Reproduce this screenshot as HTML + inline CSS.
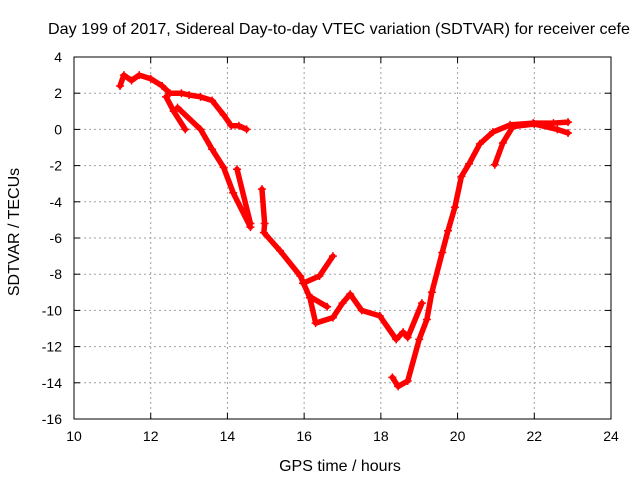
<!DOCTYPE html>
<html><head><meta charset="utf-8"><style>
body{margin:0;background:#fff}
svg{display:block;font-family:"Liberation Sans",sans-serif}
</style></head><body>
<svg id="c" width="640" height="480">
<text x="339" y="34" font-size="16" text-anchor="middle" textLength="582" lengthAdjust="spacingAndGlyphs">Day 199 of 2017, Sidereal Day-to-day VTEC variation (SDTVAR) for receiver cefe</text>
<text x="340" y="471" font-size="16" text-anchor="middle">GPS time / hours</text>
<text transform="translate(19,232) rotate(-90)" font-size="16" text-anchor="middle">SDTVAR / TECUs</text>
<g id="grid"></g><g id="series"></g>
<rect x="74" y="57" width="537" height="362" fill="none" stroke="#000" stroke-width="1"/>
</svg>
<script>
const xTicks=[10,12,14,16,18,20,22,24];
const yTicks=[4,2,0,-2,-4,-6,-8,-10,-12,-14,-16];
const sA=[[11.2,2.4],[11.3,3.0],[11.5,2.7],[11.7,3.0],[12.0,2.8],[12.3,2.4],[12.5,2.0],[12.8,2.0],[13.0,1.9],[13.3,1.8],[13.6,1.6],[13.9,0.8],[14.1,0.2],[14.3,0.2],[14.5,0.0]];
const sB=[[12.4,1.8],[12.6,1.0],[12.9,0.0]];
const sC=[[12.7,1.2],[13.3,0],[13.6,-1.1],[13.9,-2.1],[14.15,-3.5],[14.6,-5.4]];
const sD=[[14.25,-2.2],[14.6,-5.2]];
const sE=[[14.9,-3.3],[14.97,-5.2],[14.95,-5.7],[15.37,-6.7],[15.9,-8.1],[16.15,-9.3],[16.3,-10.7],[16.75,-10.4],[17.0,-9.6],[17.2,-9.1],[17.5,-10.0],[17.97,-10.3],[18.4,-11.6],[18.58,-11.2],[18.7,-11.5],[19.07,-9.6]];
const sF=[[15.97,-8.5],[16.4,-8.1],[16.75,-7.0]];
const sG=[[16.2,-9.3],[16.6,-9.8]];
const sH=[[18.3,-13.7],[18.45,-14.2],[18.7,-13.9],[19.0,-11.6],[19.2,-10.5],[19.33,-9.0],[19.6,-6.8],[19.75,-5.6],[19.93,-4.3],[20.1,-2.6],[20.3,-1.9],[20.58,-0.8],[20.92,-0.15],[21.37,0.25],[21.97,0.35],[22.5,0.35],[22.88,0.4]];
const sI=[[20.97,-1.95],[21.18,-0.75],[21.44,0.15],[22.0,0.3],[22.6,0.0],[22.88,-0.2]];
const allSeries=[sA,sB,sC,sD,sE,sF,sG,sH,sI];
const NS='http://www.w3.org/2000/svg';
const X=h=>74+(h-10)*(537/14);
const Y=v=>57+(4-v)*(362/20);
const grid=document.getElementById('grid'),ser=document.getElementById('series');
function mk(t,a,p){const e=document.createElementNS(NS,t);for(const k in a)e.setAttribute(k,a[k]);p.appendChild(e);return e;}
xTicks.forEach(t=>{const x=X(t);
 if(t>10&&t<24){const l=mk('line',{x1:x,x2:x,y1:57,y2:419,stroke:'#a0a0a0','stroke-dasharray':'2,3'},grid);}
 mk('line',{x1:x,x2:x,y1:419,y2:413,stroke:'#000'},grid);mk('line',{x1:x,x2:x,y1:57,y2:63,stroke:'#000'},grid);
 const tx=mk('text',{x:x,y:441,'font-size':14,'text-anchor':'middle'},grid);tx.textContent=t;
 });
yTicks.forEach(t=>{const y=Y(t);
 if(t<4&&t>-16){const l=mk('line',{x1:74,x2:611,y1:y,y2:y,stroke:'#a0a0a0','stroke-dasharray':'2,3'},grid);}
 mk('line',{x1:74,x2:80,y1:y,y2:y,stroke:'#000'},grid);mk('line',{x1:611,x2:605,y1:y,y2:y,stroke:'#000'},grid);
 const tx=mk('text',{x:62,y:y+5,'font-size':14,'text-anchor':'end'},grid);tx.textContent=t;
 });
allSeries.forEach((s,i)=>{
 const pl=mk('polyline',{points:s.map(p=>X(p[0])+','+Y(p[1])).join(' '),fill:'none',stroke:'#ff0000','stroke-width':5.5,'stroke-linejoin':'round','stroke-linecap':'round'},ser);
 
 
 s.forEach(p=>{const x=X(p[0]),y=Y(p[1]);
  const m=mk('path',{d:`M${x-4},${y}H${x+4}M${x},${y-4}V${y+4}`,stroke:'#ff0000','stroke-width':1.5},ser);
  
  });
});
</script>
</body></html>
